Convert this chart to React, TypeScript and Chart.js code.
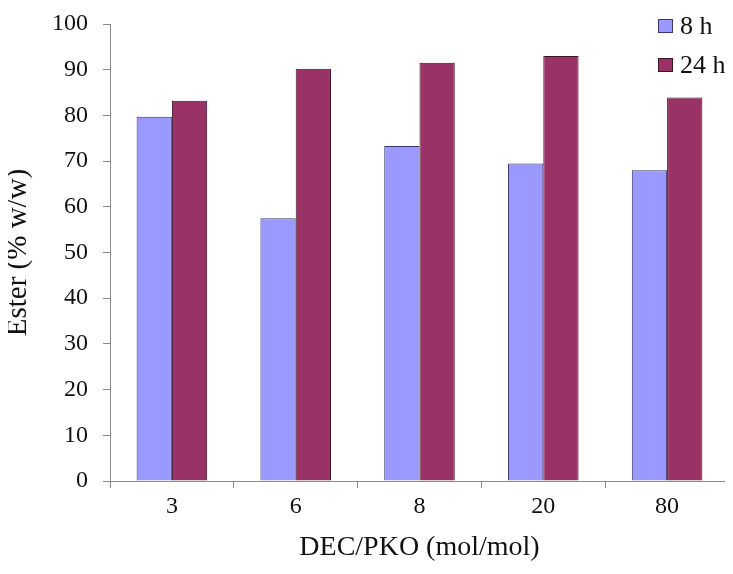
import React, { useEffect, useRef } from "react";
import { Chart, registerables } from "chart.js";

Chart.register(...registerables);

const categories = ["3", "6", "8", "20", "80"];
const series8h = [79.7, 57.5, 73.3, 69.5, 68.0];
const series24h = [83.2, 90.2, 91.5, 93.0, 83.9];
const seriesLabels = ["8 h", "24 h"];
const yTicks = [0, 10, 20, 30, 40, 50, 60, 70, 80, 90, 100];

const FONT = "'Liberation Serif', 'Times New Roman', serif";
const fill8 = "#9999FF";
const fill24 = "#993366";
const border8 = "#38386e";
const border24 = "#3a1428";

const legendPlugin = {
  id: "customLegend",
  afterDraw(chart: any) {
    const ctx = chart.ctx;
    const items = [
      { label: seriesLabels[0], fill: fill8, stroke: border8 },
      { label: seriesLabels[1], fill: fill24, stroke: border24 },
    ];
    const x0 = chart.width - 75;
    ctx.save();
    ctx.font = `26px ${FONT}`;
    ctx.textBaseline = "middle";
    ctx.textAlign = "left";
    items.forEach((it, i) => {
      const cy = 18 + i * 39;
      ctx.fillStyle = it.fill;
      ctx.fillRect(x0, cy - 7, 15, 14);
      ctx.strokeStyle = it.stroke;
      ctx.lineWidth = 1;
      ctx.strokeRect(x0 + 0.5, cy - 6.5, 14, 13);
      ctx.fillStyle = "#111";
      ctx.fillText(it.label, x0 + 22, cy + 1);
    });
    ctx.restore();
  },
};

export default function App() {
  const ref = useRef<HTMLCanvasElement>(null);
  useEffect(() => {
    if (!ref.current) return;
    const chart = new Chart(ref.current, {
      type: "bar",
      data: {
        labels: categories,
        datasets: [
          {
            label: seriesLabels[0],
            data: series8h,
            backgroundColor: fill8,
            borderColor: border8,
            borderWidth: 1,
          },
          {
            label: seriesLabels[1],
            data: series24h,
            backgroundColor: fill24,
            borderColor: border24,
            borderWidth: 1,
          },
        ],
      },
      options: {
        animation: false,
        responsive: true,
        maintainAspectRatio: false,
        layout: { padding: { top: 16, right: 4, bottom: 0, left: 0 } },
        datasets: {
          bar: { categoryPercentage: 0.57, barPercentage: 1 },
        },
        plugins: {
          legend: { display: false },
          tooltip: { enabled: false },
        },
        scales: {
          x: {
            afterFit: (s: any) => {
              s.height = 85;
              s.paddingLeft = 0;
              s.paddingRight = 0;
            },
            grid: {
              display: true,
              drawOnChartArea: false,
              drawTicks: true,
              tickLength: 7,
              color: "#8a8a8a",
              offset: true,
            },
            border: { display: true, color: "#8a8a8a", width: 1 },
            ticks: {
              color: "#111",
              font: { family: FONT, size: 24 },
              padding: 4,
            },
            title: {
              display: true,
              text: "DEC/PKO (mol/mol)",
              color: "#111",
              font: { family: FONT, size: 28 },
              padding: { top: 0, bottom: 2 },
            },
          },
          y: {
            min: 0,
            max: 100,
            afterFit: (s: any) => {
              s.width = 102;
              s.paddingTop = 0;
              s.paddingBottom = 0;
            },
            afterBuildTicks: (s: any) => {
              s.ticks = yTicks.map((v) => ({ value: v }));
            },
            grid: {
              display: true,
              drawOnChartArea: false,
              drawTicks: true,
              tickLength: 7,
              color: "#8a8a8a",
            },
            border: { display: true, color: "#8a8a8a", width: 1 },
            ticks: {
              color: "#111",
              font: { family: FONT, size: 24 },
              padding: 15,
            },
            title: {
              display: true,
              text: "Ester (% w/w)",
              color: "#111",
              font: { family: FONT, size: 29, lineHeight: 0.75 },
              padding: { top: 0, bottom: 0 },
            },
          },
        },
      },
      plugins: [legendPlugin],
    });
    return () => chart.destroy();
  }, []);
  return (
    <div style={{ width: 725, height: 558, position: "relative" }}>
      <canvas ref={ref} />
    </div>
  );
}
